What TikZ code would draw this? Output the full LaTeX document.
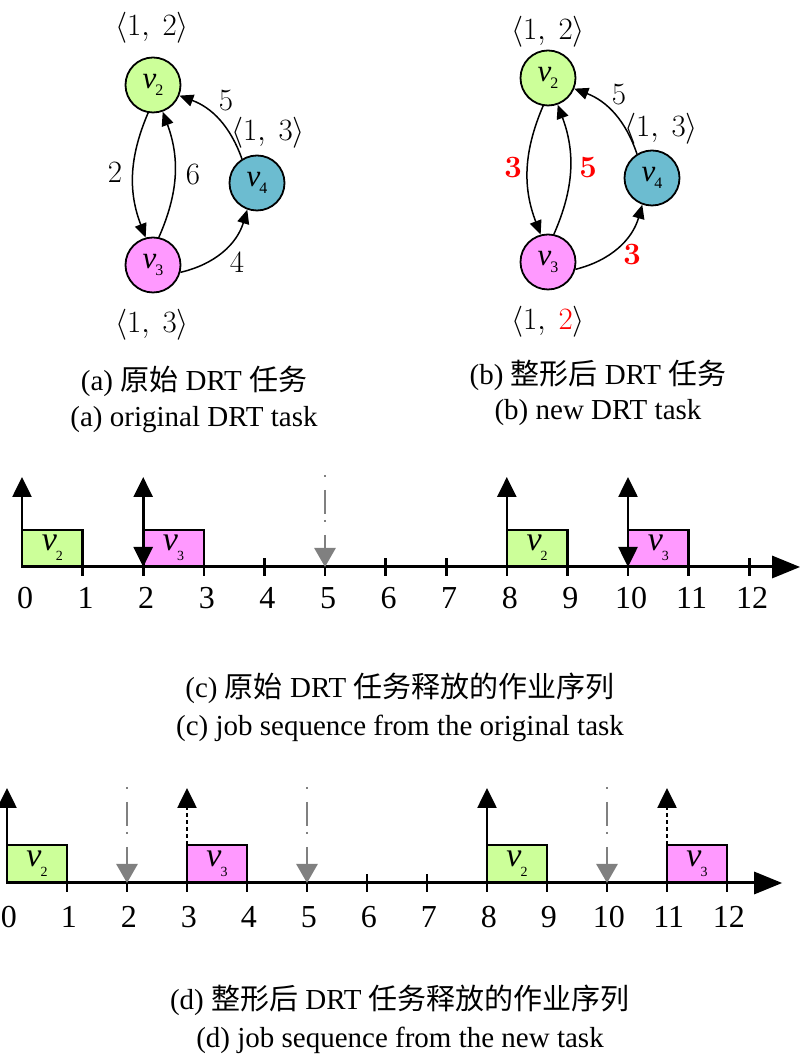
\RequirePackage{fix-cm}
\documentclass[tikz,border=0pt]{standalone}
\usepackage[no-math]{fontspec}
\setmainfont{Liberation Serif}
\newfontfamily\cjk{Noto Sans CJK SC}
\usetikzlibrary{arrows.meta}
\definecolor{vgreen}{HTML}{CCFF99}
\definecolor{vpink}{HTML}{FF99FF}
\definecolor{vblue}{HTML}{6CBCD0}
\definecolor{dgray}{HTML}{808080}
\newcommand{\gv}[1]{\fontsize{31}{32}\selectfont\itshape v\kern-1pt\raisebox{-7pt}{\fontsize{16}{17}\selectfont\upshape #1}}
\newcommand{\bv}[1]{\fontsize{34}{35}\selectfont\itshape v\kern-1pt\raisebox{-10pt}{\fontsize{14}{14}\selectfont\upshape #1}}
\tikzset{
  vnode/.style={circle, draw, line width=1.8pt, minimum size=55pt, inner sep=0pt},
  garr/.style={-{Triangle[length=14pt,width=12pt]}, line width=1.5pt},
  gtxt/.style={font=\fontsize{31}{33}\selectfont, inner sep=0pt},
  captxt/.style={font=\fontsize{29}{30}\selectfont, inner sep=0pt},
  numtxt/.style={font=\fontsize{32}{34}\selectfont, inner sep=0pt},
  jobbox/.style={line width=2.6pt},
  tickmark/.style={line width=2.6pt},
  timeaxis/.style={line width=3pt, -{Triangle[length=28pt,width=22pt]}},
  uparr/.style={line width=2.6pt, -{Triangle[length=20pt,width=19pt]}},
  duparr/.style={line width=2.6pt, {Triangle[length=20pt,width=19pt]}-{Triangle[length=20pt,width=19pt]}},
  dotarr/.style={line width=2.6pt, dash pattern=on 4pt off 3pt, -{Triangle[length=20pt,width=19pt]}},
  grayarr/.style={line width=2.8pt, dgray, dash pattern=on 2pt off 13pt on 24pt off 6pt, -{Triangle[length=19pt,width=21pt]}},
}
\begin{document}
\begin{tikzpicture}[x=1pt,y=1pt]
\useasboundingbox (0,0) rectangle (800,1055);

% ---------- graph (a) ----------
\node[vnode, fill=vgreen] (a2) at (153,970) {\gv{2}};
\node[vnode, fill=vpink]  (a3) at (153,790) {\gv{3}};
\node[vnode, fill=vblue]  (a4) at (257,872) {\gv{4}};
\draw[garr] (a2.260) to[bend right=22] (a3.105);
\draw[garr] (a3.78) to[bend right=22] (a2.290);
\draw[garr] (a4.122) to[bend right=25] (a2.338);
\draw[garr] (a3.345) to[bend right=30] (a4.250);
\node[gtxt] (ta2) at (152,1027) {$\langle 1,\ 2\rangle$};
\node[gtxt] (ta4) at (268,922) {$\langle 1,\ 3\rangle$};
\node[gtxt] (ta3) at (152,730) {$\langle 1,\ 3\rangle$};
\node[gtxt] (ea23) at (115,882) {$2$};
\node[gtxt] (ea32) at (193,880) {$6$};
\node[gtxt] (ea42) at (226,954) {$5$};
\node[gtxt] (ea34) at (237,792) {$4$};
\node[captxt] (capa1) at (194,674) {(a) {\cjk 原始} DRT {\cjk 任务}};
\node[captxt] (capa2) at (194,635) {(a) original DRT task};

% ---------- graph (b) ----------
\node[vnode, fill=vgreen] (b2) at (548,977) {\gv{2}};
\node[vnode, fill=vpink]  (b3) at (548,793) {\gv{3}};
\node[vnode, fill=vblue]  (b4) at (652,877) {\gv{4}};
\draw[garr] (b2.260) to[bend right=22] (b3.105);
\draw[garr] (b3.78) to[bend right=22] (b2.290);
\draw[garr] (b4.122) to[bend right=25] (b2.338);
\draw[garr] (b3.345) to[bend right=30] (b4.250);
\node[gtxt] (tb2) at (548,1023) {$\langle 1,\ 2\rangle$};
\node[gtxt] (tb4) at (661,926) {$\langle 1,\ 3\rangle$};
\node[gtxt] (tb3) at (548,733) {$\langle 1,\ \textcolor{red}{2}\rangle$};
\node[gtxt, red] (eb23) at (513,887) {$\mathbf{3}$};
\node[gtxt, red] (eb32) at (588,887) {$\mathbf{5}$};
\node[gtxt] (eb42) at (619,960) {$5$};
\node[gtxt, red] (eb34) at (632,800) {$\mathbf{3}$};
\node[captxt] (capb1) at (598,680) {(b) {\cjk 整形后} DRT {\cjk 任务}};
\node[captxt] (capb2) at (598,642) {(b) new DRT task};

% ---------- timeline (c) ----------
\begin{scope}[shift={(22pt,488pt)}, x=60.6pt, y=1pt]
  \draw[jobbox, fill=vgreen] (0,0) rectangle (1,37);
  \draw[jobbox, fill=vpink]  (2,0) rectangle (3,37);
  \draw[jobbox, fill=vgreen] (8,0) rectangle (9,37);
  \draw[jobbox, fill=vpink]  (10,0) rectangle (11,37);
  \node (c1) at (0.5,19) {\bv{2}};
  \node (c2) at (2.5,19) {\bv{3}};
  \node (c3) at (8.5,19) {\bv{2}};
  \node (c4) at (10.5,19) {\bv{3}};
  \draw[timeaxis] (0,0) -- (12.84,0);
  \foreach \t in {1,...,12} \draw[tickmark] (\t,-9) -- (\t,9);
  \foreach \t in {0,...,12} \node[numtxt] at (\t+0.05,-31) {\t};
  \draw[uparr] (0,37) -- (0,90);
  \draw[duparr] (2,0) -- (2,90);
  \draw[uparr] (8,37) -- (8,90);
  \draw[duparr] (10,0) -- (10,90);
  \draw[grayarr] (5,92) -- (5,0);
\end{scope}
\node[captxt] (capc1) at (400,367) {(c) {\cjk 原始} DRT {\cjk 任务释放的作业序列}};
\node[captxt] (capc2) at (400,327) {(c) job sequence from the original task};

% ---------- timeline (d) ----------
\begin{scope}[shift={(7pt,172pt)}, x=60pt, y=1pt]
  \draw[jobbox, fill=vgreen] (0,0) rectangle (1,38);
  \draw[jobbox, fill=vpink]  (3,0) rectangle (4,38);
  \draw[jobbox, fill=vgreen] (8,0) rectangle (9,38);
  \draw[jobbox, fill=vpink]  (11,0) rectangle (12,38);
  \node (d1) at (0.5,19) {\bv{2}};
  \node (d2) at (3.5,19) {\bv{3}};
  \node (d3) at (8.5,19) {\bv{2}};
  \node (d4) at (11.5,19) {\bv{3}};
  \draw[timeaxis] (0,0) -- (12.92,0);
  \foreach \t in {1,...,12} \draw[tickmark] (\t,-9) -- (\t,9);
  \foreach \t in {0,...,12} \node[numtxt] at (\t+0.03,-34) {\t};
  \draw[uparr] (0,38) -- (0,95);
  \draw[dotarr] (3,38) -- (3,95);
  \draw[uparr] (8,38) -- (8,95);
  \draw[dotarr] (11,38) -- (11,95);
  \draw[grayarr] (2,96) -- (2,0);
  \draw[grayarr] (5,96) -- (5,0);
  \draw[grayarr] (10,96) -- (10,0);
\end{scope}
\node[captxt] (capd1) at (400,55) {(d) {\cjk 整形后} DRT {\cjk 任务释放的作业序列}};
\node[captxt] (capd2) at (400,15) {(d) job sequence from the new task};
\end{tikzpicture}
\end{document}
